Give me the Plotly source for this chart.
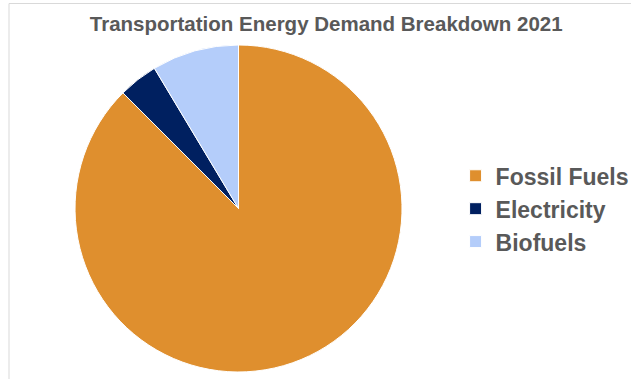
import plotly.graph_objects as go

# Share of transportation energy demand, 2021 (percent)
categories = ["Fossil Fuels", "Electricity", "Biofuels"]
shares = [87.5, 3.9, 8.6]
slice_colors = ["#DF8F2E", "#002060", "#B4CDFA"]
chart_title = "Transportation Energy Demand Breakdown 2021"

W, H = 631, 379

fig = go.Figure(
    go.Pie(
        labels=categories,
        values=shares,
        sort=False,
        direction="clockwise",
        rotation=0,
        marker=dict(colors=slice_colors, line=dict(color="white", width=1)),
        textinfo="none",
        hoverinfo="label+percent",
        domain=dict(x=[0.1189, 0.6371], y=[0.0185, 0.8813]),
    )
)

grey = "#595959"
fig.update_layout(
    width=W,
    height=H,
    margin=dict(l=0, r=0, t=0, b=0, autoexpand=False),
    paper_bgcolor="white",
    title=dict(
        text=chart_title,
        x=0.517,
        xanchor="center",
        y=0.936,
        yanchor="middle",
        font=dict(family="Liberation Sans, Arial, sans-serif", size=20.5, color=grey, weight="bold"),
    ),
    legend=dict(
        x=0.722,
        xanchor="left",
        y=0.449,
        yanchor="middle",
        font=dict(family="Liberation Sans, Arial, sans-serif", size=23, color=grey, weight="bold"),
        bgcolor="rgba(0,0,0,0)",
    ),
    shapes=[
        dict(type="line", xref="paper", yref="paper", x0=9 / W, x1=1, y0=1 - 3.5 / H, y1=1 - 3.5 / H,
             line=dict(color="#D9D9D9", width=1)),
        dict(type="line", xref="paper", yref="paper", x0=9 / W, x1=9 / W, y0=0, y1=1 - 3.5 / H,
             line=dict(color="#D9D9D9", width=1)),
    ],
)

fig.write_html("out.html")
